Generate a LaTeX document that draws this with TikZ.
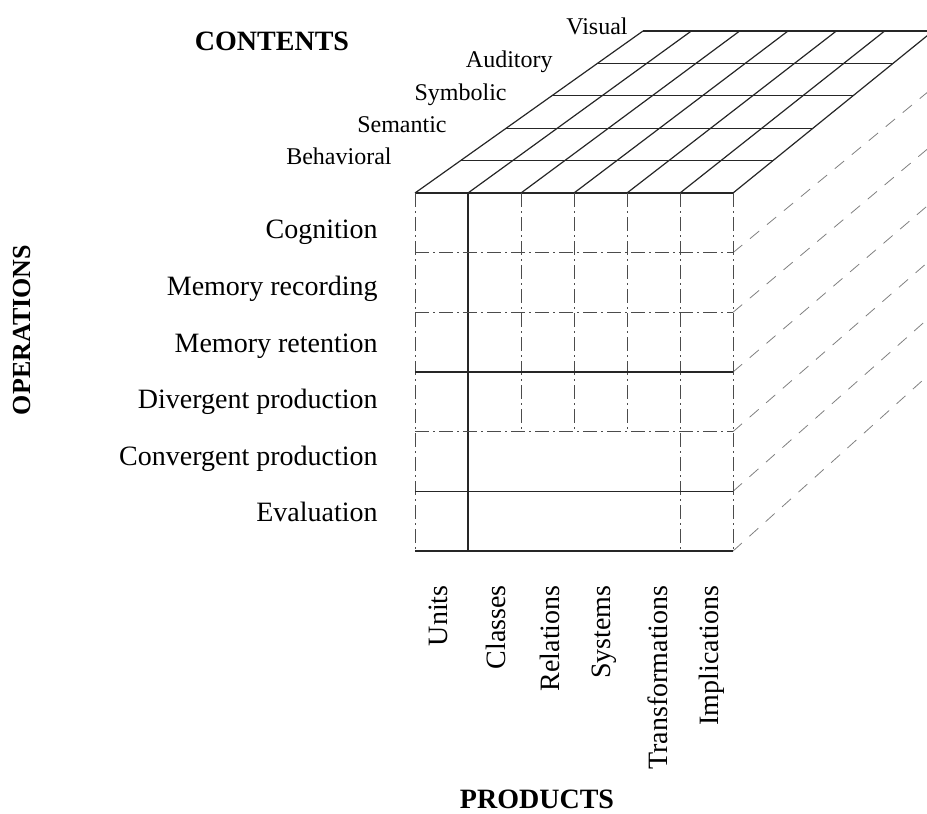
\documentclass[tikz,border=0pt]{standalone}
\usepackage{fontspec}
\setmainfont{Liberation Serif}
\usetikzlibrary{calc}
\begin{document}
\begin{tikzpicture}[x=0.5pt,y=-0.5pt]
\tikzstyle{every node}=[inner sep=0pt, font=\fontsize{14}{16}\selectfont]
\tikzstyle{content}=[anchor=base east, font=\fontsize{12}{14}\selectfont]
\tikzstyle{operation}=[anchor=base east]
\tikzstyle{product}=[rotate=90, anchor=east]
\tikzstyle{heading}=[font=\fontsize{14}{16}\selectfont\bfseries]
\tikzstyle{solidline}=[line width=0.6pt, black!85]
\tikzstyle{brokenline}=[line width=0.5pt, black!70, dash pattern=on 7pt off 2pt on 1pt off 2pt]
\tikzstyle{sideline}=[line width=0.4pt, black!50, dash pattern=on 6pt off 5pt]
\useasboundingbox (0,0) rectangle (927,814);
\clip (0,0) rectangle (927,814);

% cube corners
\coordinate (ftl) at (415,193);
\coordinate (ftr) at (733,193);
\coordinate (fbl) at (415,551);
\coordinate (fbr) at (733,551);
\coordinate (btl) at (643,31);
\coordinate (btr) at (933,31);
\coordinate (bbr) at (933,371);

% top face
\foreach \k in {0,...,5}
  \draw[solidline] ($(ftl)!\k/5!(btl)$) -- ($(ftr)!\k/5!(btr)$);
\foreach \i in {0,...,6}
  \draw[solidline] ($(ftl)!\i/6!(ftr)$) -- ($(btl)!\i/6!(btr)$);

% right face
\foreach \j in {1,...,6}
  \draw[sideline] ($(ftr)!\j/6!(fbr)$) -- ($(btr)!\j/6!(bbr)$);

% front face
\draw[solidline] (ftl) -- (ftr);
\draw[brokenline] (ftl) -- (fbl);
\draw[solidline] (fbl) -- (fbr);
\draw[brokenline] (ftr) -- (fbr);
\draw[solidline] ($(ftl)!1/6!(ftr)$) -- ($(fbl)!1/6!(fbr)$);
\draw[brokenline] ($(ftl)!5/6!(ftr)$) -- ($(fbl)!5/6!(fbr)$);
\foreach \i in {2,3,4}
  \draw[brokenline] ($(ftl)!\i/6!(ftr)$) -- ++(0,239);
\foreach \j in {1,2,4}
  \draw[brokenline] ($(ftl)!\j/6!(fbl)$) -- ($(ftr)!\j/6!(fbr)$);
\foreach \j in {3,5}
  \draw[solidline] ($(ftl)!\j/6!(fbl)$) -- ($(ftr)!\j/6!(fbr)$);

% contents
\node[heading] (contents) at (272,41) {CONTENTS};
\node[content] (visual) at (628,34) {Visual};
\node[content] (auditory) at (553,67) {Auditory};
\node[content] (symbolic) at (507,100) {Symbolic};
\node[content] (semantic) at (447,132) {Semantic};
\node[content] (behavioral) at (392,164) {Behavioral};

% operations
\node[heading, rotate=90, font=\fontsize{13}{15}\selectfont\bfseries] (operations) at (22,330) {OPERATIONS};
\node[operation] (cognition) at (378,238) {Cognition};
\node[operation] (recording) at (378,295) {Memory recording};
\node[operation] (retention) at (378,352) {Memory retention};
\node[operation] (divergent) at (378,408) {Divergent production};
\node[operation] (convergent) at (378,465) {Convergent production};
\node[operation] (evaluation) at (378,521) {Evaluation};

% products
\node[product] (units) at (438,585) {Units};
\node[product] (classes) at (496,585) {Classes};
\node[product] (relations) at (550,585) {Relations};
\node[product] (systems) at (604,585) {Systems};
\node[product] (transformations) at (658,585) {Transformations};
\node[product] (implications) at (712,585) {Implications};
\node[heading] (products) at (537,799) {PRODUCTS};
\end{tikzpicture}
\end{document}
